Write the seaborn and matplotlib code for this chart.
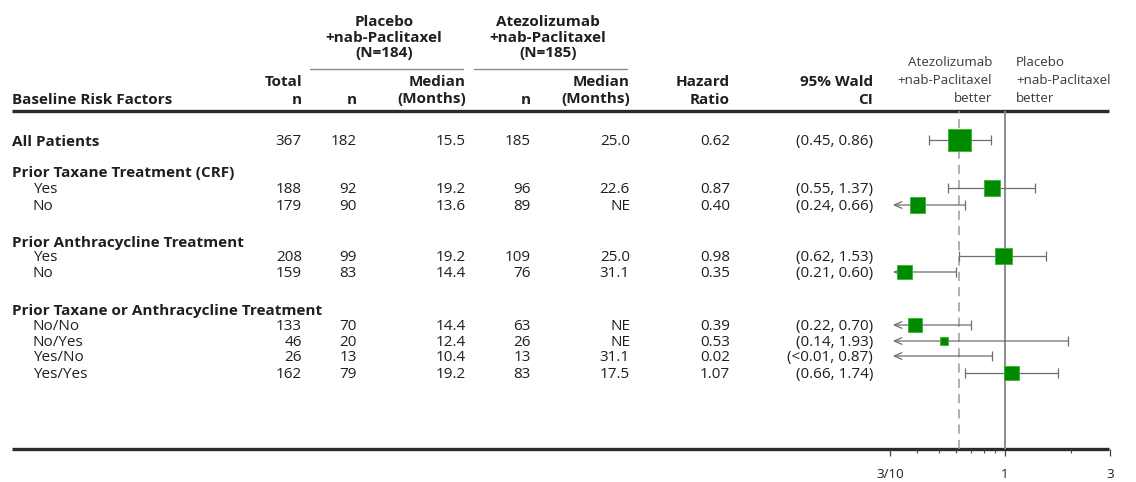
import numpy as np
import pandas as pd
import matplotlib
matplotlib.use("Agg")
import matplotlib.pyplot as plt
import seaborn as sns

# ---- data -------------------------------------------------------------
row_labels = ["All Patients",
              "Prior Taxane Treatment (CRF)", "Yes", "No",
              "Prior Anthracycline Treatment", "Yes", "No",
              "Prior Taxane or Anthracycline Treatment",
              "No/No", "No/Yes", "Yes/No", "Yes/Yes"]
row_is_header = [True, True, False, False, True, False, False, True,
                 False, False, False, False]
row_has_data = [True, False, True, True, False, True, True, False,
                True, True, True, True]

total_n = [367, 188, 179, 208, 159, 133, 46, 26, 162]
placebo_n = [182, 92, 90, 99, 83, 70, 20, 13, 79]
placebo_median = ["15.5", "19.2", "13.6", "19.2", "14.4", "14.4", "12.4", "10.4", "19.2"]
atezo_n = [185, 96, 89, 109, 76, 63, 26, 13, 83]
atezo_median = ["25.0", "22.6", "NE", "25.0", "31.1", "NE", "NE", "31.1", "17.5"]
hazard_ratio = [0.62, 0.87, 0.40, 0.98, 0.35, 0.39, 0.53, 0.02, 1.07]
ci_lower = [0.45, 0.55, 0.24, 0.62, 0.21, 0.22, 0.14, 0.01, 0.66]
ci_lower_below = [False, False, False, False, False, False, False, True, False]
ci_upper = [0.86, 1.37, 0.66, 1.53, 0.60, 0.70, 1.93, 0.87, 1.74]

axis_ticks = [0.3, 1, 3]
axis_tick_labels = ["3/10", "1", "3"]

# ---- layout (pixel coordinates of a 1136 x 482 canvas) ------------------
W, H = 1136, 482
row_y = [140, 172, 188, 205, 241, 256, 272, 310, 325, 341, 356, 373]
data_y = [y for y, d in zip(row_y, row_has_data) if d]
TY = 1.5  # baseline nudge so glyphs sit on the row centre

sns.set_theme(style="white")
plt.rcParams["font.family"] = ["Open Sans", "DejaVu Sans"]
TXT = "#1f1f1f"
FS = 11.0
FS_SMALL = 9.6

fig = plt.figure(figsize=(W / 100, H / 100), dpi=100)
ax = fig.add_axes([0, 0, 1, 1])
ax.set_xlim(0, W)
ax.set_ylim(H, 0)
ax.axis("off")

# column headers
def hdr(x, y, s, ha="right"):
    ax.text(x, y + TY, s, ha=ha, va="center", fontsize=FS, fontweight="bold", color=TXT)

hdr(384, 20, "Placebo", "center")
hdr(384, 36, "+nab-Paclitaxel", "center")
hdr(384, 52, "(N=184)", "center")
hdr(548, 20, "Atezolizumab", "center")
hdr(548, 36, "+nab-Paclitaxel", "center")
hdr(548, 52, "(N=185)", "center")
ax.plot([310, 463], [69, 69], color="#8a8a8a", lw=1)
ax.plot([474, 627], [69, 69], color="#8a8a8a", lw=1)

hdr(12, 98, "Baseline Risk Factors", "left")
hdr(302, 81, "Total"); hdr(302, 98, "n")
hdr(357, 98, "n")
hdr(466, 81, "Median"); hdr(466, 98, "(Months)")
hdr(531, 98, "n")
hdr(630, 81, "Median"); hdr(630, 98, "(Months)")
hdr(730, 81, "Hazard"); hdr(730, 98, "Ratio")
hdr(873, 81, "95% Wald"); hdr(873, 98, "CI")

for i, s in enumerate(["Atezolizumab", "+nab-Paclitaxel", "better"]):
    ax.text(992, 63 + 17.5 * i, s, ha="right", va="center", fontsize=FS_SMALL,
            color="#3a3a3a")
for i, s in enumerate(["Placebo", "+nab-Paclitaxel", "better"]):
    ax.text(1016, 63 + 17.5 * i, s, ha="left", va="center", fontsize=FS_SMALL,
            color="#3a3a3a")

# header rule and bottom rule
ax.plot([12, 1109], [111, 111], color="#2b2b2b", lw=2.4, solid_capstyle="butt")
ax.plot([12, 1109], [449, 449], color="#2b2b2b", lw=2.4, solid_capstyle="butt")

# row labels
for y, lab, is_h in zip(row_y, row_labels, row_is_header):
    if is_h:
        ax.text(12, y + TY, lab, ha="left", va="center", fontsize=FS,
                fontweight="bold", color=TXT)
    else:
        ax.text(33, y + TY, lab, ha="left", va="center", fontsize=FS, color=TXT)

# numeric columns
for k, y in enumerate(data_y):
    lo_txt = "<0.01" if ci_lower_below[k] else f"{ci_lower[k]:.2f}"
    cells = [(302, str(total_n[k])), (357, str(placebo_n[k])),
             (466, placebo_median[k]), (531, str(atezo_n[k])),
             (630, atezo_median[k]), (730, f"{hazard_ratio[k]:.2f}"),
             (873, f"({lo_txt}, {ci_upper[k]:.2f})")]
    for x, s in cells:
        ax.text(x, y + TY, s, ha="right", va="center", fontsize=FS, color=TXT)

# ---- forest panel ---------------------------------------------------------
x0, x1 = 890, 1110
y_top, y_bot = 111, 449
fax = fig.add_axes([x0 / W, (H - y_bot) / H, (x1 - x0) / W, (y_bot - y_top) / H])
fax.set_xscale("log")
fax.set_xlim(0.3, 3)
fax.set_ylim(y_bot, y_top)
fax.patch.set_alpha(0)
for side in ["top", "right", "left", "bottom"]:
    fax.spines[side].set_visible(False)
fax.set_yticks([])

fax.axvline(1, color="#8c8c8c", lw=1.4, zorder=1)
fax.axvline(hazard_ratio[0], color="#9a9a9a", lw=1.1, ls=(0, (6, 4)), zorder=1)

line_col = "#6e6e6e"
xmin = fax.get_xlim()[0]
for k, y in enumerate(data_y):
    lo, hi = ci_lower[k], ci_upper[k]
    if lo < xmin:
        fax.annotate("", xy=(xmin * 1.03, y), xytext=(hi, y),
                     arrowprops=dict(arrowstyle="->,head_length=0.45,head_width=0.2",
                                     color=line_col, lw=0.9, shrinkA=0, shrinkB=0),
                     zorder=2)
    else:
        fax.plot([lo, hi], [y, y], color=line_col, lw=0.9, zorder=2)
        fax.plot([lo], [y], marker="|", ms=7, mew=0.9, color=line_col, zorder=2)
    fax.plot([hi], [y], marker="|", ms=7, mew=0.9, color=line_col, zorder=2)

df = pd.DataFrame({"hr": hazard_ratio, "y": data_y, "n": total_n})
df = df[df["hr"] >= xmin]
sns.scatterplot(data=df, x="hr", y="y", size="n", sizes=(0, 260),
                size_norm=(0, max(total_n)), marker="s", color="#008a00",
                edgecolor="#2fb82f", linewidth=0.6, legend=False, ax=fax,
                zorder=3)
fax.set_xlabel("")
fax.set_ylabel("")

fax.set_xticks(axis_ticks)
fax.set_xticklabels(axis_tick_labels, fontsize=FS_SMALL, color=TXT)
fax.xaxis.set_minor_locator(matplotlib.ticker.LogLocator(base=10, subs=np.arange(2, 10)))
fax.xaxis.set_minor_formatter(matplotlib.ticker.NullFormatter())
fax.tick_params(axis="x", which="major", bottom=True, length=5, width=0.9,
                color="#444444", direction="out", pad=9)
fax.tick_params(axis="x", which="minor", bottom=True, length=3, width=0.8,
                color="#444444", direction="out")

fig.savefig("out.png", dpi=100)
